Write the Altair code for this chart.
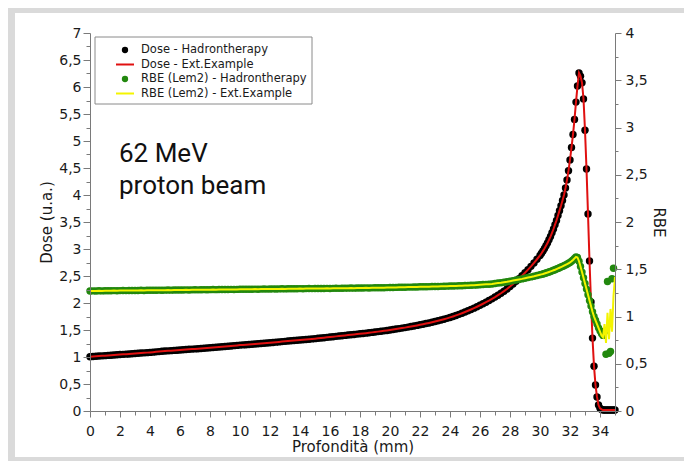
import altair as alt
import pandas as pd

# ---------------- data ----------------
# depth sampling grid in mm: 0.2 mm steps up to 30 mm, 0.1 mm steps to 35 mm
depth = [round(i * 0.2, 1) for i in range(151)] + [round(30.1 + i * 0.1, 1) for i in range(50)]

dose_plateau = [
    1.005, 1.010, 1.013, 1.017, 1.021, 1.025, 1.030, 1.033, 1.037, 1.041,
    1.045, 1.049, 1.053, 1.057, 1.061, 1.065, 1.069, 1.073, 1.077, 1.081,
    1.085, 1.090, 1.095, 1.100, 1.105, 1.110, 1.114, 1.118, 1.122, 1.126,
    1.130, 1.134, 1.138, 1.142, 1.146, 1.150, 1.154, 1.158, 1.162, 1.166,
    1.170, 1.175, 1.180, 1.185, 1.190, 1.195, 1.200, 1.205, 1.210, 1.215,
    1.220, 1.224, 1.228, 1.232, 1.236, 1.240, 1.245, 1.250, 1.255, 1.260,
    1.265, 1.270, 1.275, 1.280, 1.285, 1.290, 1.295, 1.300, 1.305, 1.310,
    1.315, 1.320, 1.325, 1.330, 1.335, 1.340, 1.346, 1.352, 1.358, 1.364,
    1.370, 1.376, 1.382, 1.388, 1.394, 1.400, 1.406, 1.412, 1.418, 1.424,
    1.430, 1.436, 1.442, 1.449, 1.456, 1.463, 1.470, 1.477, 1.484, 1.492,
    1.500, 1.508, 1.517, 1.526, 1.535, 1.544, 1.554, 1.564, 1.574, 1.585,
    1.596, 1.607, 1.619, 1.631, 1.644, 1.657, 1.671, 1.685, 1.700, 1.716,
    1.733, 1.751, 1.770, 1.790, 1.811, 1.833, 1.856, 1.880, 1.905, 1.931,
    1.958, 1.986, 2.015, 2.045, 2.077, 2.110, 2.145, 2.181, 2.219, 2.259,
    2.305, 2.352, 2.401, 2.452, 2.505, 2.560, 2.618, 2.679, 2.743, 2.810,
    2.880,
]
dose_peak = [
    2.92, 2.965, 3.01, 3.06, 3.11, 3.17, 3.23, 3.30, 3.37,
    3.45, 3.53, 3.62, 3.71, 3.80, 3.90, 4.00, 4.13, 4.28, 4.45,
    4.65, 4.88, 5.12, 5.40, 5.72, 6.02, 6.26, 6.20, 6.08, 5.78,
    5.20, 4.48, 3.65, 2.78, 2.02, 1.35, 0.83, 0.48, 0.26, 0.11,
    0.05, 0.03, 0.02, 0.02, 0.02, 0.02, 0.02, 0.02, 0.02, 0.02,
    0.02,
]
dose_hadron = dose_plateau + dose_peak
dose_ext = dose_plateau + dose_peak

rbe_plateau = [
    1.270, 1.271, 1.270, 1.272, 1.271, 1.272, 1.273, 1.272, 1.274, 1.273,
    1.274, 1.275, 1.274, 1.275, 1.276, 1.275, 1.276, 1.277, 1.276, 1.277,
    1.278, 1.277, 1.278, 1.279, 1.278, 1.279, 1.280, 1.279, 1.280, 1.281,
    1.280, 1.281, 1.282, 1.281, 1.282, 1.283, 1.282, 1.283, 1.284, 1.283,
    1.284, 1.285, 1.284, 1.285, 1.286, 1.285, 1.286, 1.287, 1.286, 1.287,
    1.288, 1.288, 1.289, 1.288, 1.289, 1.290, 1.289, 1.290, 1.291, 1.290,
    1.291, 1.292, 1.291, 1.292, 1.293, 1.292, 1.293, 1.294, 1.293, 1.294,
    1.295, 1.294, 1.295, 1.296, 1.295, 1.296, 1.297, 1.296, 1.297, 1.298,
    1.297, 1.298, 1.299, 1.298, 1.299, 1.300, 1.300, 1.301, 1.300, 1.301,
    1.302, 1.302, 1.303, 1.302, 1.303, 1.304, 1.304, 1.305, 1.305, 1.306,
    1.307, 1.307, 1.308, 1.309, 1.309, 1.310, 1.311, 1.311, 1.312, 1.313,
    1.314, 1.314, 1.315, 1.316, 1.317, 1.318, 1.318, 1.319, 1.320, 1.321,
    1.322, 1.323, 1.324, 1.325, 1.326, 1.328, 1.329, 1.331, 1.332, 1.334,
    1.336, 1.338, 1.340, 1.342, 1.344, 1.350, 1.354, 1.358, 1.363, 1.368,
    1.374, 1.380, 1.386, 1.392, 1.398, 1.405, 1.412, 1.419, 1.426, 1.434,
    1.442,
]
rbe_peak_hadron = [
    1.446, 1.450, 1.455, 1.460, 1.465, 1.471, 1.477, 1.483, 1.489,
    1.495, 1.502, 1.509, 1.516, 1.523, 1.530, 1.538, 1.546, 1.554, 1.563,
    1.572, 1.584, 1.598, 1.615, 1.630, 1.625, 1.585, 1.530, 1.470, 1.410,
    1.350, 1.290, 1.230, 1.170, 1.110, 1.050, 1.000, 0.960, 0.920, 0.880,
    0.850, 0.820, 0.800, 0.840, 0.600, 1.370, 0.610, 0.630, 1.400, 1.510,
    None,
]
rbe_peak_ext = [
    1.446, 1.450, 1.455, 1.460, 1.465, 1.471, 1.477, 1.483, 1.489,
    1.495, 1.502, 1.509, 1.516, 1.523, 1.530, 1.538, 1.546, 1.554, 1.563,
    1.572, 1.584, 1.598, 1.615, 1.630, 1.625, 1.585, 1.530, 1.470, 1.410,
    1.350, 1.290, 1.230, 1.170, 1.110, 1.050, 1.000, 0.960, 0.920, 0.880,
    0.840, 0.800, 0.780, 0.920, 0.720, 1.040, 0.760, 1.080, 0.840, 1.220,
    1.420,
]
rbe_hadron = rbe_plateau + rbe_peak_hadron
rbe_ext = rbe_plateau + rbe_peak_ext

legend_labels = [
    "Dose - Hadrontherapy",
    "Dose - Ext.Example",
    "RBE (Lem2) - Hadrontherapy",
    "RBE (Lem2) - Ext.Example",
]
annotation_lines = ["62 MeV", "proton beam"]

x_ticks = list(range(0, 36))
dose_ticks = [i * 0.25 for i in range(29)]
rbe_ticks = [i * 0.25 for i in range(17)]

# ---------------- styling ----------------
FONT = "DejaVu Sans"
AXIS_GRAY = "#7a7a7a"
TEXT = "#1a1a1a"
BLACK = "#000000"
RED = "#e01010"
GREEN = "#22880e"
YELLOW = "#f4f400"

df = pd.DataFrame({
    "depth": depth,
    "dose_had": dose_hadron,
    "dose_ext": dose_ext,
    "rbe_had": rbe_hadron,
    "rbe_ext": rbe_ext,
})

common_axis = dict(
    domainColor=AXIS_GRAY, tickColor=AXIS_GRAY, labelColor=TEXT, titleColor=TEXT,
    labelFont=FONT, titleFont=FONT, labelFontSize=14, titleFontSize=15,
    titleFontWeight="normal", grid=False, labelOverlap=False, labelFlush=False,
    zindex=2,
)

x_axis = alt.Axis(
    values=x_ticks,
    labelExpr="(datum.value % 2 == 0 && datum.value <= 34) ? datum.label : ''",
    tickSize={"condition": {"test": "datum.value % 2 == 0", "value": 6}, "value": 4},
    labelPadding=7, titlePadding=1, title="Profondità (mm)", **common_axis,
)
x_enc = alt.X("depth:Q", scale=alt.Scale(domain=[0, 35], nice=False, zero=False), axis=x_axis)

dose_axis = alt.Axis(
    values=dose_ticks, format="~g",
    labelExpr="datum.value % 0.5 == 0 ? replace(datum.label, '.', ',') : ''",
    tickSize={"condition": {"test": "datum.value % 0.5 == 0", "value": 7}, "value": 4},
    labelPadding=2, titlePadding=4, title="Dose (u.a.)", orient="left", **common_axis,
)
dose_scale = alt.Scale(domain=[0, 7], nice=False)

rbe_axis = alt.Axis(
    values=rbe_ticks, format="~g",
    labelExpr="datum.value % 0.5 == 0 ? replace(datum.label, '.', ',') : ''",
    tickSize={"condition": {"test": "datum.value % 0.5 == 0", "value": 6}, "value": 3},
    labelPadding=4, titlePadding=3, title="RBE", orient="right", **common_axis,
)
rbe_scale = alt.Scale(domain=[0, 4], nice=False)

base = alt.Chart(df)

dose_pts = base.mark_circle(size=55, color=BLACK, opacity=1).encode(
    x=x_enc, y=alt.Y("dose_had:Q", scale=dose_scale, axis=dose_axis))
dose_line = base.mark_line(color=RED, strokeWidth=2).encode(
    x=x_enc, y=alt.Y("dose_ext:Q", scale=dose_scale, axis=dose_axis))
dose_layer = alt.layer(dose_pts, dose_line)

rbe_pts = base.transform_filter("isValid(datum.rbe_had)").mark_circle(
    size=55, color=GREEN, opacity=1).encode(
    x=x_enc, y=alt.Y("rbe_had:Q", scale=rbe_scale, axis=rbe_axis))
rbe_line = base.mark_line(color=YELLOW, strokeWidth=2).encode(
    x=x_enc, y=alt.Y("rbe_ext:Q", scale=rbe_scale, axis=rbe_axis))
rbe_layer = alt.layer(rbe_pts, rbe_line)

one = alt.Chart(pd.DataFrame({"k": [0]}))

# white panel on the grey frame
panel = one.mark_rect(color="white").encode(
    x=alt.value(-75), x2=alt.value(594), y=alt.value(-20), y2=alt.value(424))

# legend box
leg_box = one.mark_rect(fill="white", stroke="#8a8a8a", strokeWidth=1).encode(
    x=alt.value(5), x2=alt.value(222), y=alt.value(4), y2=alt.value(71))
row_y = [17, 31.5, 46, 60.5]
leg_items = [
    one.mark_circle(size=40, color=BLACK, opacity=1).encode(x=alt.value(35), y=alt.value(row_y[0])),
    one.mark_rule(color=RED, strokeWidth=2).encode(x=alt.value(26), x2=alt.value(44), y=alt.value(row_y[1])),
    one.mark_circle(size=40, color=GREEN, opacity=1).encode(x=alt.value(35), y=alt.value(row_y[2])),
    one.mark_rule(color=YELLOW, strokeWidth=2).encode(x=alt.value(26), x2=alt.value(44), y=alt.value(row_y[3])),
]
leg_texts = [
    one.mark_text(align="left", baseline="middle", font=FONT, fontSize=11.5, color=TEXT).encode(
        x=alt.value(51), y=alt.value(ry), text=alt.value(lbl))
    for lbl, ry in zip(legend_labels, row_y)
]

annot = [
    one.mark_text(align="left", baseline="alphabetic", font="Roboto", fontSize=26, color="#111111").encode(
        x=alt.value(29), y=alt.value(yy), text=alt.value(t))
    for t, yy in zip(annotation_lines, [129, 161])
]

chart = alt.layer(
    panel, dose_layer, rbe_layer, leg_box, *leg_items, *leg_texts, *annot
).resolve_scale(y="independent").properties(
    width=525, height=378,
    autosize=alt.AutoSizeParams(type="none"),
    padding={"left": 82, "top": 25, "right": 69, "bottom": 50},
    background="#dadada",
).configure_view(stroke="transparent")

chart.save("out.html", embed_options={"renderer": "svg", "actions": False})
